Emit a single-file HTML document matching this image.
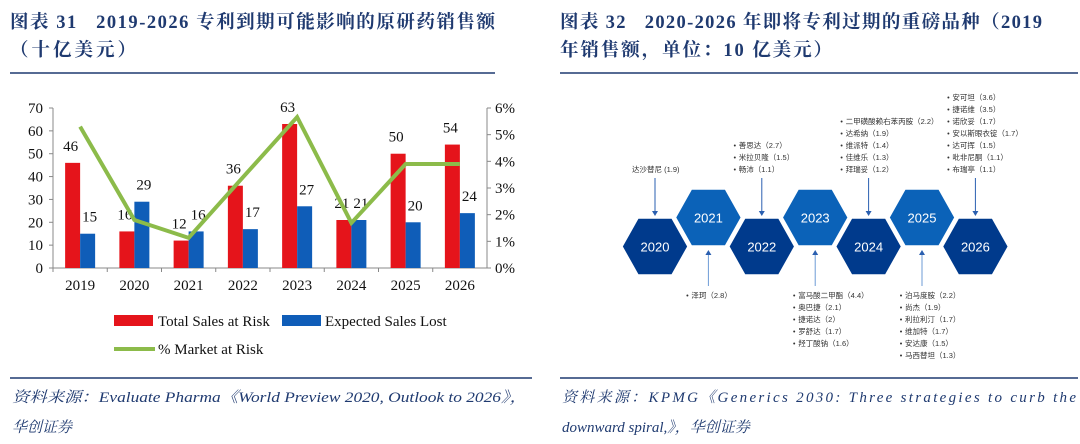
<!DOCTYPE html>
<html><head><meta charset="utf-8"><style>
body{margin:0;background:#fff;width:1080px;height:444px;overflow:hidden}
svg{display:block}
</style></head><body>
<svg width="1080" height="444" viewBox="0 0 1080 444" xmlns="http://www.w3.org/2000/svg" font-family="'Liberation Serif','Noto Serif CJK SC',serif">
<g fill="#1f3a70" font-weight="bold" font-size="18.5">
<text x="10" y="28" textLength="485" lengthAdjust="spacing">图表 31&#160;&#160; 2019-2026 专利到期可能影响的原研药销售额</text>
<text x="10" y="56" letter-spacing="3">（十亿美元）</text>
</g>
<line x1="10" y1="73" x2="495" y2="73" stroke="#1f3a70" stroke-width="1.5"/>
<g fill="#1f3a70" font-weight="bold" font-size="18.5">
<text x="560" y="28" textLength="482" lengthAdjust="spacing">图表 32&#160;&#160; 2020-2026 年即将专利过期的重磅品种（2019</text>
<text x="560" y="56" textLength="272" lengthAdjust="spacing">年销售额，单位：10 亿美元）</text>
</g>
<line x1="560" y1="73" x2="1078" y2="73" stroke="#1f3a70" stroke-width="1.5"/>

<g id="chart"></g>
<g id="timeline"></g>

<line x1="10" y1="378" x2="532" y2="378" stroke="#1f3a70" stroke-width="1.5"/>
<line x1="560" y1="378" x2="1078" y2="378" stroke="#1f3a70" stroke-width="1.5"/>
<g fill="#1f3a70" font-style="italic" font-size="15">
<text x="12" y="402" textLength="515" lengthAdjust="spacingAndGlyphs">资料来源：Evaluate Pharma《World Preview 2020, Outlook to 2026》，</text>
<text x="12" y="432">华创证券</text>
</g>
<g fill="#1f3a70" font-style="italic" font-size="15">
<text x="562" y="402" textLength="514" lengthAdjust="spacing">资料来源：KPMG《Generics 2030: Three strategies to curb the</text>
<text x="562" y="432">downward spiral,》，华创证券</text>
</g>
</svg>
<script>
const categories=["2019","2020","2021","2022","2023","2024","2025","2026"];
const totalSales=[46,16,12,36,63,21,50,54];
const expectedLost=[15,29,16,17,27,21,20,24];
const marketPct=[5.3,1.8,1.13,3.4,5.66,1.69,3.9,3.9];
const leftTicks=[0,10,20,30,40,50,60,70];
const rightTicks=[0,1,2,3,4,5,6];
const NS="http://www.w3.org/2000/svg";
function mk(p,t,a){const e=document.createElementNS(NS,t);for(const k in a)e.setAttribute(k,a[k]);p.appendChild(e);return e;}
const g=document.getElementById('chart');
const X0=53,X1=487,Y0=268,Y1=108;
const step=(X1-X0)/categories.length;
const xc=i=>X0+step*(i+0.5);
const yl=v=>Y0-(v/70)*(Y0-Y1);
const yr=v=>Y0-(v/6)*(Y0-Y1);
let e;
e=mk(g,'line',{x1:X0,y1:Y1,x2:X0,y2:Y0,stroke:'#888'});

e=mk(g,'line',{x1:X1,y1:Y1,x2:X1,y2:Y0,stroke:'#888'});

e=mk(g,'line',{x1:X0,y1:Y0,x2:X1,y2:Y0,stroke:'#888'});

leftTicks.forEach(v=>{mk(g,'line',{x1:X0-4,x2:X0,y1:yl(v),y2:yl(v),stroke:'#888'});
e=mk(g,'text',{x:X0-10,y:yl(v)+5,'text-anchor':'end','font-size':15,fill:'#111'});e.textContent=v;
});
rightTicks.forEach(v=>{mk(g,'line',{x1:X1,x2:X1+4,y1:yr(v),y2:yr(v),stroke:'#888'});
e=mk(g,'text',{x:X1+8,y:yr(v)+5,'font-size':15,fill:'#111'});e.textContent=v+'%';
});
const bw=15;
categories.forEach((c,i)=>{
 mk(g,'line',{x1:X0+step*i,x2:X0+step*i,y1:Y0,y2:Y0+4,stroke:'#888'});
 e=mk(g,'text',{x:xc(i),y:Y0+22,'text-anchor':'middle','font-size':15,fill:'#111'});e.textContent=c;
 
 e=mk(g,'rect',{x:xc(i)-bw,y:yl(totalSales[i]),width:bw,height:Y0-yl(totalSales[i]),fill:'#e5141b'});
 
 e=mk(g,'rect',{x:xc(i),y:yl(expectedLost[i]),width:bw,height:Y0-yl(expectedLost[i]),fill:'#0f5db8'});
 
 e=mk(g,'text',{x:xc(i)-bw/2-2,y:yl(totalSales[i])-12,'text-anchor':'middle','font-size':15,fill:'#111'});e.textContent=totalSales[i];
 
 e=mk(g,'text',{x:xc(i)+bw/2+2,y:yl(expectedLost[i])-12,'text-anchor':'middle','font-size':15,fill:'#111'});e.textContent=expectedLost[i];
 
});
e=mk(g,'polyline',{points:marketPct.map((v,i)=>xc(i)+','+yr(v)).join(' '),fill:'none',stroke:'#8cbb4a','stroke-width':4,'stroke-linejoin':'miter'});

e=mk(g,'rect',{x:114,y:315,width:39,height:11,fill:'#e5141b'});

e=mk(g,'text',{x:158,y:326,'font-size':15,fill:'#111'});e.textContent='Total Sales at Risk';

e=mk(g,'rect',{x:282,y:315,width:39,height:11,fill:'#0f5db8'});

e=mk(g,'text',{x:325,y:326,'font-size':15,fill:'#111'});e.textContent='Expected Sales Lost';

e=mk(g,'line',{x1:114,x2:155,y1:349,y2:349,stroke:'#8cbb4a','stroke-width':4});

e=mk(g,'text',{x:158,y:354,'font-size':15,fill:'#111'});e.textContent='% Market at Risk';


const years=["2020","2021","2022","2023","2024","2025","2026"];
const above={0:["达沙替尼 (1.9)"],2:["善思达（2.7）","米拉贝隆（1.5）","畅沛（1.1）"],4:["二甲磺酸赖右苯丙胺（2.2）","达希纳（1.9）","维派特（1.4）","佳维乐（1.3）","拜瑞妥（1.2）"],6:["安可坦（3.6）","捷诺维（3.5）","诺欣妥（1.7）","安以斯眼衣锭（1.7）","达可挥（1.5）","吡非尼酮（1.1）","布瑞亭（1.1）"]};
const below={1:["泽珂（2.8）"],3:["富马酸二甲酯（4.4）","奥巴捷（2.1）","捷诺达（2）","罗舒达（1.7）","羟丁酸钠（1.6）"],5:["泊马度胺（2.2）","尚杰（1.9）","利拉利汀（1.7）","维加特（1.7）","安达康（1.5）","马西替坦（1.3）"]};
const t=document.getElementById('timeline');
const hx=i=>655+i*53.4;
years.forEach((y,i)=>{
 const cx=hx(i), low=i%2===0, cy=low?246.5:217.5, w=33, h=28.5, q=17;
 e=mk(t,'polygon',{points:`${cx-w},${cy} ${cx-q},${cy-h} ${cx+q},${cy-h} ${cx+w},${cy} ${cx+q},${cy+h} ${cx-q},${cy+h}`,fill:low?'#003a8c':'#0b62b8',stroke:'#fff','stroke-width':1.5});
 
 e=mk(t,'text',{x:cx,y:cy+5,'text-anchor':'middle','font-size':13,fill:'#fff','font-family':"'Liberation Sans Narrow','Liberation Sans',sans-serif"});e.textContent=y;
 
});
const f="'Liberation Sans','Noto Sans CJK SC',sans-serif";
Object.keys(above).forEach(k=>{const i=+k,cx=hx(i),items=above[k];
 e=mk(t,'line',{x1:cx,x2:cx,y1:178,y2:212,stroke:'#2a5fb0','stroke-width':1});
 
 mk(t,'polygon',{points:`${cx-3},${211} ${cx+3},${211} ${cx},${216}`,fill:'#2a5fb0'});
 const x0=i===0?632:cx-29;
 items.forEach((s,j)=>{const y=172-(items.length-1-j)*12;
  e=mk(t,'text',{x:x0+(i===0?0:6),y:y,'font-size':7.5,fill:'#333','font-family':f});e.textContent=s;
  
  if(i!==0){e=mk(t,'circle',{cx:x0+2,cy:y-2.5,r:1,fill:'#333'});}
 });
});
Object.keys(below).forEach(k=>{const i=+k,cx=hx(i),items=below[k];
 e=mk(t,'line',{x1:cx,x2:cx,y1:254,y2:286,stroke:'#6d9bd6','stroke-width':1});
 
 mk(t,'polygon',{points:`${cx-3},${255} ${cx+3},${255} ${cx},${250}`,fill:'#2a5fb0'});
 const x0=cx-23;
 items.forEach((s,j)=>{const y=298+j*12;
  e=mk(t,'text',{x:x0+6,y:y,'font-size':7.5,fill:'#333','font-family':f});e.textContent=s;
  
  mk(t,'circle',{cx:x0+2,cy:y-2.5,r:1,fill:'#333'});
 });
});
</script>
</body></html>
